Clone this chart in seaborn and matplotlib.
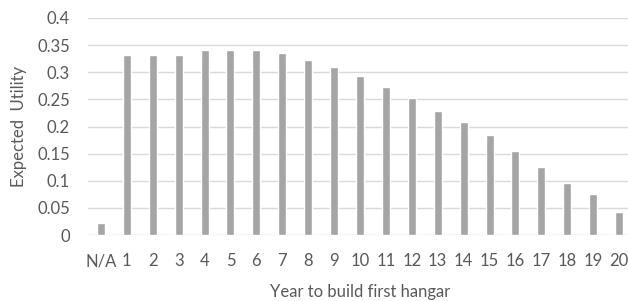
import matplotlib
matplotlib.use("Agg")
import matplotlib.pyplot as plt
import seaborn as sns
import pandas as pd
import numpy as np

categories = ["N/A"] + [str(i) for i in range(1, 21)]
values = [0.022, 0.332, 0.332, 0.332, 0.341, 0.341, 0.341, 0.336, 0.323, 0.309,
          0.294, 0.273, 0.252, 0.229, 0.208, 0.184, 0.155, 0.125, 0.096, 0.075, 0.043]
yticks = [0, 0.05, 0.1, 0.15, 0.2, 0.25, 0.3, 0.35, 0.4]
ytick_labels = ["0", "0.05", "0.1", "0.15", "0.2", "0.25", "0.3", "0.35", "0.4"]

sns.set_style("white")
plt.rcParams['font.family'] = ['Lato', 'DejaVu Sans']

df = pd.DataFrame({"year": categories, "utility": values})

fig = plt.figure(figsize=(6.28, 3.01), dpi=100)
ax = fig.add_axes([88/628, 1-235/301, 544/628, (235-18)/301])
sns.barplot(data=df, x="year", y="utility", color="#a5a5a5", saturation=1,
            width=0.31, ax=ax, order=categories)
ax.set_ylim(0, 0.4)
ax.set_xlim(-0.5, len(categories) - 0.5)
ax.set_yticks(yticks)
ax.set_yticklabels(ytick_labels)
ax.yaxis.grid(True, color="#d9d9d9", linewidth=1)
ax.set_axisbelow(True)
for s in ax.spines.values():
    s.set_visible(False)
ax.tick_params(axis="both", length=0, colors="#595959", labelsize=12)
ax.tick_params(axis="x", pad=13)
ax.tick_params(axis="y", pad=13)
ax.set_xlabel("Year to build first hangar", color="#595959", fontsize=12, labelpad=11)
ax.set_ylabel("Expected  Utility", color="#595959", fontsize=12, labelpad=7)
fig.savefig("out.png", dpi=100)
